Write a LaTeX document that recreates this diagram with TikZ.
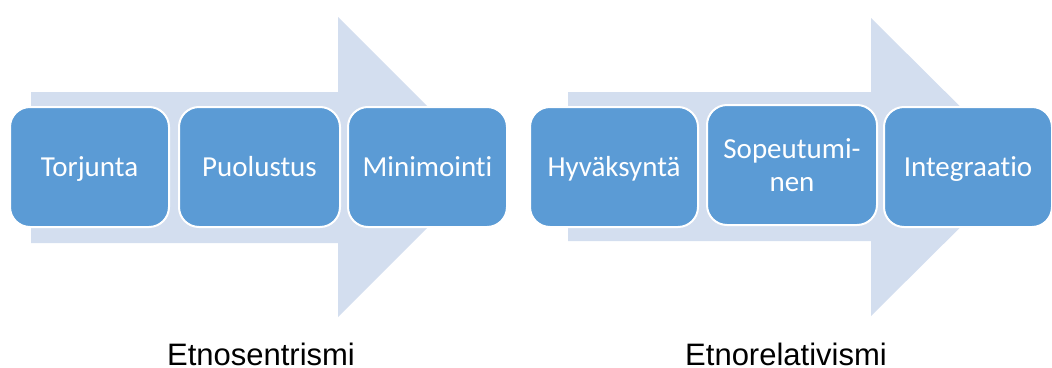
\documentclass[tikz,border=0pt]{standalone}
\usepackage{fontspec}
\newfontfamily\boxfont[Ligatures=NoCommon]{Carlito}
\newfontfamily\labelfont{Liberation Sans}
\definecolor{arrowfill}{HTML}{D3DEEF}
\definecolor{boxfill}{HTML}{5B9BD5}
\begin{document}
\begin{tikzpicture}[x=1pt,y=-1pt,
  stagebox/.style={draw=white,line width=2pt,fill=boxfill,rounded corners=20pt,
    minimum height=120pt,inner sep=0pt,text=white,align=center,
    font=\boxfont\fontsize{29}{33}\selectfont},
  onebox/.style={stagebox,text height=20pt,text depth=2pt},
  grouplabel/.style={anchor=base,inner sep=0pt,font=\labelfont\fontsize{31}{36}\selectfont}]
\useasboundingbox (0,0) rectangle (1052,367);
% big arrows
\fill[arrowfill] (31,92) -- (338,92) -- (338,17) -- (488,167) -- (338,317) -- (338,243) -- (31,243) -- cycle;
\fill[arrowfill] (568,92) -- (871,92) -- (871,18) -- (1021,167) -- (871,316) -- (871,241) -- (568,241) -- cycle;
% left group
\node[onebox,minimum width=159pt] (torj) at (89.5,167) {Torjunta};
\node[onebox,minimum width=161pt] (puol) at (259.5,167) {Puolustus};
\node[onebox,minimum width=159pt] (mini) at (427.5,167) {Minimointi};
% right group
\node[onebox,minimum width=168pt] (hyva) at (614,167) {Hyväksyntä};
\node[stagebox,minimum width=170pt] (sope) at (792,165) {Sopeutumi-\\nen};
\node[onebox,minimum width=168pt] (inte) at (968,167) {Integraatio};
% labels
\node[grouplabel] (etnos) at (261,365) {Etnosentrismi};
\node[grouplabel] (etnor) at (786,365) {Etnorelativismi};
\end{tikzpicture}
\end{document}
